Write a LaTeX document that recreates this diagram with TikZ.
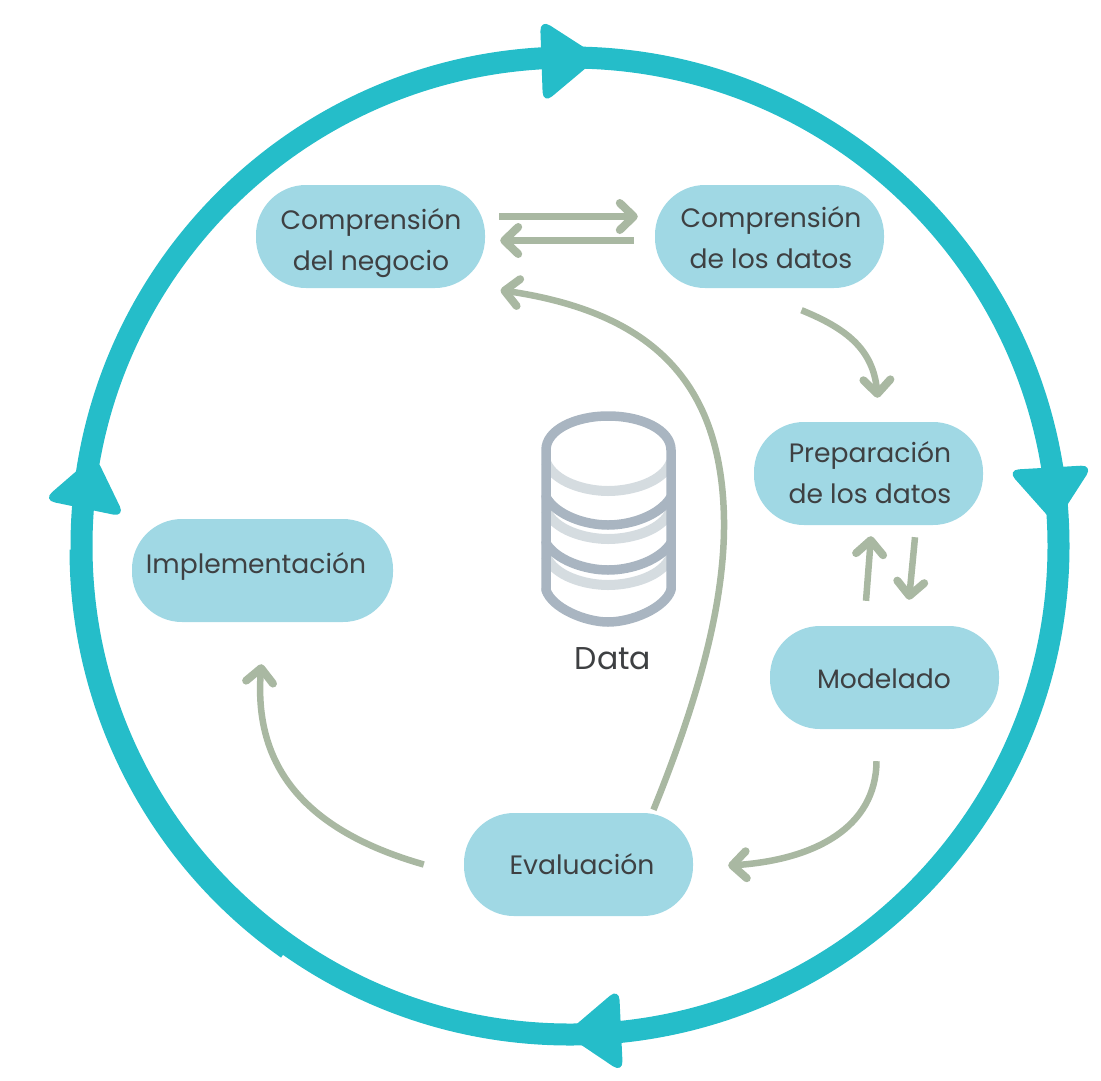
\documentclass[tikz,border=0pt]{standalone}
\usepackage{fontspec}
\setmainfont{Poppins}
\usetikzlibrary{arrows.meta,bending}
\definecolor{ringc}{HTML}{25BDC9}
\definecolor{boxc}{HTML}{A0D8E4}
\definecolor{arrc}{HTML}{A9B8A2}
\definecolor{txtc}{HTML}{3E4042}
\definecolor{dbd}{HTML}{A9B5C1}
\definecolor{dbl}{HTML}{D5DCE0}
\tikzset{
  x=1pt,y=-1pt,
  box/.style={fill=boxc,draw=none,rounded corners=50pt,minimum width=229pt,minimum height=103pt,inner sep=0pt},
  lbl/.style={text=txtc,font=\fontsize{26.6}{41}\selectfont,align=center,inner sep=0pt},
  flow/.style={draw=arrc,line width=6.5pt,-{Straight Barb[length=14pt,width=27pt,line width=8pt,line cap=round,round]}},
  ring/.style={draw=ringc,line width=22pt},
  head/.style={fill=ringc,draw=none,rounded corners=12pt},
  dbdark/.style={draw=dbd,line width=9.5pt,line cap=round},
  dblight/.style={draw=dbl,line width=10pt},
}
\begin{document}
\begin{tikzpicture}
\useasboundingbox (0,0) rectangle (1101,1080);
% ring
\draw[ring] (570,546) circle [radius=488.5];
\draw[ring] (569,549.5) ++(180:488.5) arc [start angle=180,end angle=125.2,radius=488.5];
\path[head] (540,19) -- (599,57) -- (543,104) -- cycle;
\path[head] (1007,470) -- (1093,465) -- (1055,524) -- cycle;
\path[head] (43,500) -- (95,455) -- (125,517) -- cycle;
\path[head] (619,988) -- (565,1034) -- (623,1073) -- cycle;
% boxes
\node[box] (negocio) at (370.5,236.5) {};
\node[box] (datos) at (769.5,236.5) {};
\node[box] (prep) at (868.5,473.5) {};
\node[box] (model) at (884.5,677.5) {};
\node[box] (eval) at (578.5,864.5) {};
\node[box,minimum width=261pt] (impl) at (262.5,570.5) {};
% labels
\node[lbl] (tnegocio) at (371,243) {Comprensión\\del negocio};
\node[lbl] (tdatos) at (771,238) {Comprensión\\de los datos};
\node[lbl] (tprep) at (870,473) {Preparación\\de los datos};
\node[lbl] (tmodel) at (884,679) {Modelado};
\node[lbl] (teval) at (582,864) {Evaluación};
\node[lbl] (timpl) at (256,566) {Implementación};
% connectors
\draw[flow] ([shift={(14,-20)}]negocio.east) -- ([shift={(-17,-20)}]datos.west);
\draw[flow] ([shift={(-21,4)}]datos.west) -- ([shift={(15,4)}]negocio.east);
\draw[flow] ([shift={(32,22)}]datos.south) .. controls (850,330) and (876,352) .. ([shift={(9,-24)}]prep.north);
\draw[flow] ([shift={(-18.5,-25)}]model.north) -- ([shift={(2.5,11)}]prep.south);
\draw[flow] ([shift={(46.5,12)}]prep.south) -- ([shift={(24.5,-26)}]model.north);
\draw[flow] ([shift={(-8,32)}]model.south) .. controls (876,830) and (810,862) .. ([shift={(35,1)}]eval.east);
\draw[flow] ([shift={(75,-3)}]eval.north) .. controls (700,695) and (725,600) .. (724,520) .. controls (722,380) and (650,310) .. ([shift={(130,2)}]negocio.south);
\draw[flow] ([shift={(-40,0)}]eval.west) .. controls (310,832) and (250,770) .. ([shift={(-1,42)}]impl.south);
% database
\draw[dblight] (546,462) .. controls (554,482) and (585,491) .. (608,491) .. controls (632,491) and (663,482) .. (671,462);
\draw[dblight] (546,510) .. controls (554,530) and (585,539) .. (608,539) .. controls (632,539) and (663,530) .. (671,510);
\draw[dblight] (546,556) .. controls (554,576) and (585,585) .. (608,585) .. controls (632,585) and (663,576) .. (671,556);
\draw[dbdark] (546,590) -- (546,450) .. controls (546,430) and (575,416) .. (608,416) .. controls (642,416) and (671,430) .. (671,450) -- (671,590);
\draw[dbdark] (546,497) .. controls (556,515) and (585,525) .. (608,525) .. controls (632,525) and (660,515) .. (671,497);
\draw[dbdark] (546,543) .. controls (556,560) and (585,570) .. (608,570) .. controls (632,570) and (660,560) .. (671,543);
\draw[dbdark] (546,590) .. controls (552,608) and (585,622) .. (608,622) .. controls (632,622) and (665,608) .. (671,590);
\node[text=txtc,font=\fontsize{31.5}{35}\selectfont,inner sep=0pt] (data) at (613,659) {Data};
\end{tikzpicture}
\end{document}
